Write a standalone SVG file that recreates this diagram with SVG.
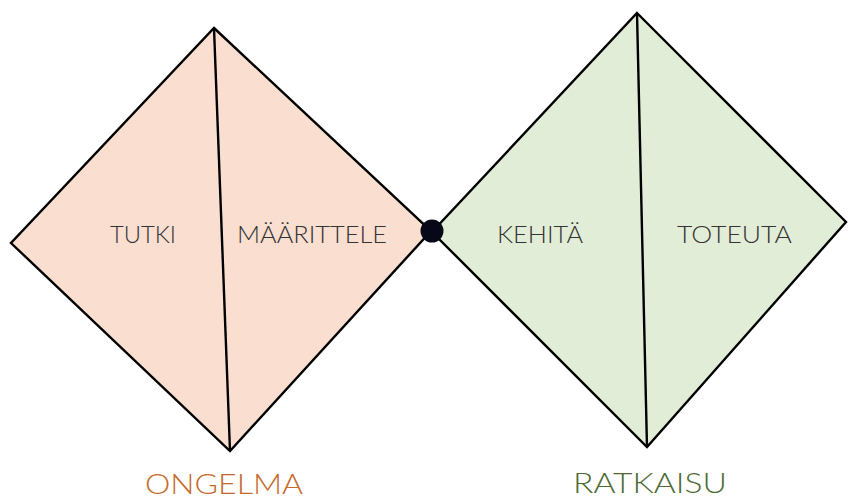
<svg xmlns="http://www.w3.org/2000/svg" width="848" height="500" viewBox="0 0 848 500">
<style>
.edge{stroke:#000;stroke-width:2.4;stroke-linejoin:miter;}
.lbl{font-family:Lato,"Open Sans","Liberation Sans",sans-serif;font-weight:300;font-size:23px;fill:#333;}
.big{font-family:Lato,"Open Sans","Liberation Sans",sans-serif;font-weight:300;font-size:27px;}
</style>
<rect width="848" height="500" fill="#fff"/>
<g id="ongelma">
<polygon class="edge" points="214,28 431,231 230,451 11,243" fill="#FADFD0"/>
<text class="lbl" x="110" y="243" textLength="66" lengthAdjust="spacingAndGlyphs">TUTKI</text>
<text class="lbl" x="237" y="243" textLength="150" lengthAdjust="spacingAndGlyphs">MÄÄRITTELE</text>
<text class="big" x="145" y="494" textLength="158" lengthAdjust="spacingAndGlyphs" fill="#C4692B">ONGELMA</text>
</g>
<g id="ratkaisu">
<polygon class="edge" points="637,13 846,222 647,447 432,232" fill="#E2EDD7"/>
<text class="lbl" x="497" y="243" textLength="86" lengthAdjust="spacingAndGlyphs">KEHITÄ</text>
<text class="lbl" x="677" y="243" textLength="115" lengthAdjust="spacingAndGlyphs">TOTEUTA</text>
<text class="big" x="573" y="493" textLength="154" lengthAdjust="spacingAndGlyphs" fill="#4E6A34">RATKAISU</text>
</g>
<g id="connectors">
<line class="edge" x1="214" y1="28" x2="230" y2="451" stroke-width="2.8"/>
<line class="edge" x1="637" y1="13" x2="647" y2="447" stroke-width="3.2"/>
</g>
<g id="dot">
<circle cx="432" cy="231" r="11.5" fill="#060818"/>
</g>
</svg>
